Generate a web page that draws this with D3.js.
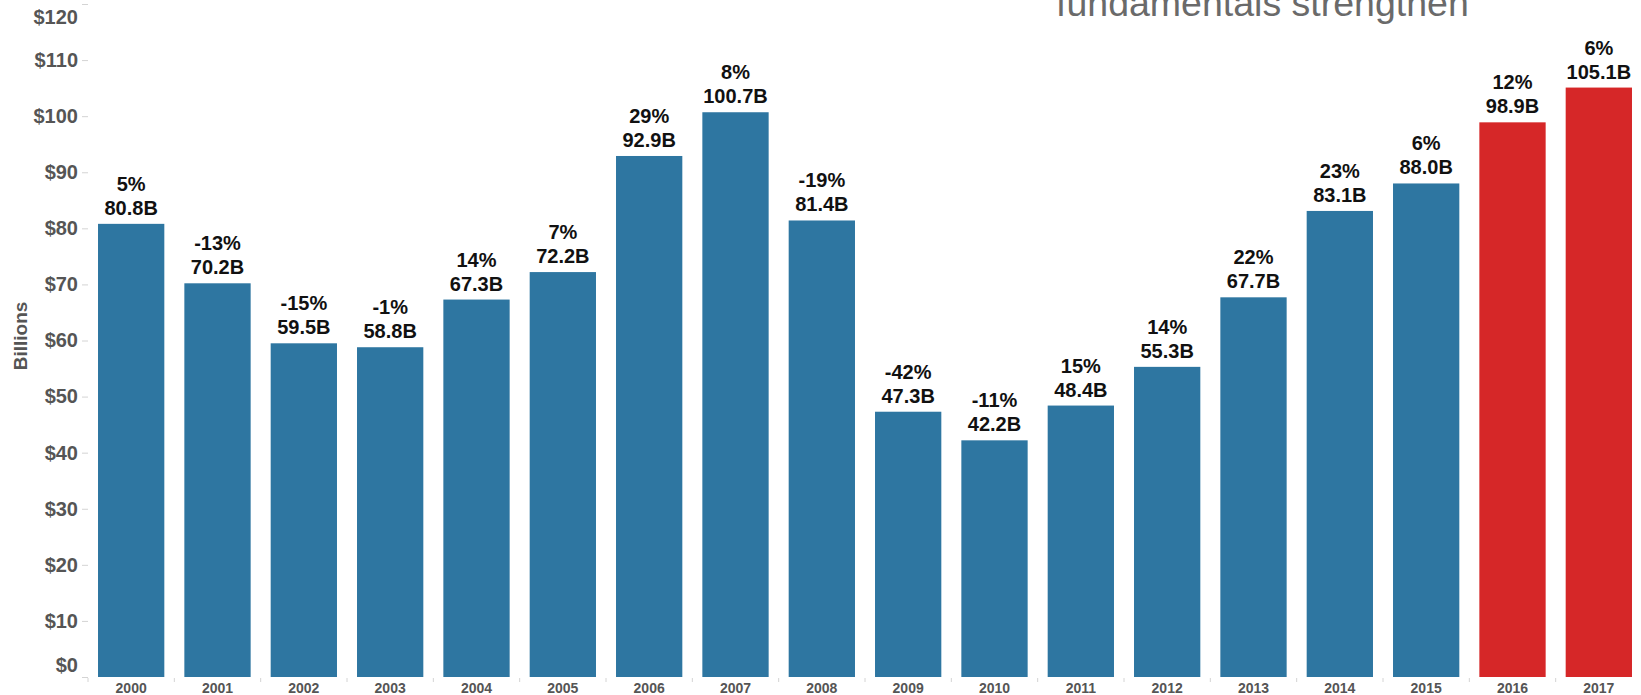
<!DOCTYPE html>
<html>
<head>
<meta charset="utf-8">
<script src="https://cdn.jsdelivr.net/npm/d3@7"></script>
<style>
  html, body { margin: 0; padding: 0; background: #fff; overflow: hidden; }
  svg { display: block; font-family: "Liberation Sans", Arial, sans-serif; }
</style>
</head>
<body>
<svg id="chart" width="1641" height="695"></svg>
<script>
// Annual totals (billions) and year-over-year change
const years = ["2000","2001","2002","2003","2004","2005","2006","2007","2008",
               "2009","2010","2011","2012","2013","2014","2015","2016","2017"];
const totals = [80.8, 70.2, 59.5, 58.8, 67.3, 72.2, 92.9, 100.7, 81.4,
                47.3, 42.2, 48.4, 55.3, 67.7, 83.1, 88.0, 98.9, 105.1];
const changes = [5, -13, -15, -1, 14, 7, 29, 8, -19,
                 -42, -11, 15, 14, 22, 23, 6, 12, 6];
const projectedYears = ["2016", "2017"];
const yTicks = [0, 10, 20, 30, 40, 50, 60, 70, 80, 90, 100, 110, 120];
const titleText = "fundamentals strengthen";

const data = years.map((y, i) => ({ year: y, total: totals[i], change: changes[i] }));

const svg = d3.select("#chart");
const plotLeft = 88, plotRight = 1642, plotTop = 4, plotBottom = 677;

const x = d3.scaleBand().domain(years).range([plotLeft, plotRight])
  .paddingInner(0.232).paddingOuter(0.116);
const y = d3.scaleLinear().domain([0, 120]).range([plotBottom, plotTop]);

// Partial headline at the top
svg.append("text")
  .attr("x", 1056).attr("y", 16)
  .attr("fill", "#6a6a6a")
  .attr("font-size", 37.5)
  .attr("font-weight", 300)
  .text(titleText);

// Y axis: labels and short light ticks, no domain line
const yAxis = svg.append("g")
  .attr("transform", `translate(${plotLeft},0)`)
  .call(d3.axisLeft(y).tickValues(yTicks).tickSize(6).tickPadding(4)
    .tickFormat(d => "$" + d));
yAxis.select(".domain").remove();
yAxis.selectAll(".tick line").attr("stroke", "#d4d4d4");
yAxis.selectAll(".tick text")
  .attr("fill", "#555").attr("font-size", 20).attr("font-weight", "bold")
  .attr("font-family", "'Liberation Sans', Arial, sans-serif");
// keep the end labels inside the plot's vertical extent
yAxis.selectAll(".tick").filter(d => d === 120).select("text").attr("dy", "0.95em");
yAxis.selectAll(".tick").filter(d => d === 0).select("text").attr("dy", "-0.3em");

svg.append("text")
  .attr("transform", `translate(27,336) rotate(-90)`)
  .attr("text-anchor", "middle")
  .attr("fill", "#555").attr("font-size", 19).attr("font-weight", "bold")
  .text("Billions");

// Bars
svg.append("g").selectAll("rect").data(data).join("rect")
  .attr("x", d => x(d.year))
  .attr("width", x.bandwidth())
  .attr("y", d => y(d.total))
  .attr("height", d => y(0) - y(d.total))
  .attr("fill", d => projectedYears.includes(d.year) ? "#d62728" : "#2e76a1");

// X axis: category separators and year labels
const step = x.step();
const seps = d3.range(0, years.length).map(i => plotLeft + i * step);
svg.append("g").selectAll("line").data(seps).join("line")
  .attr("x1", d => d).attr("x2", d => d)
  .attr("y1", plotBottom + 1).attr("y2", plotBottom + 5)
  .attr("stroke", "#d4d4d4");

svg.append("g").selectAll("text").data(data).join("text")
  .attr("x", d => x(d.year) + x.bandwidth() / 2)
  .attr("y", 693)
  .attr("text-anchor", "middle")
  .attr("fill", "#555").attr("font-size", 14).attr("font-weight", "bold")
  .text(d => d.year);

// Value labels: change on the first line, total on the second
const labels = svg.append("g").selectAll("g").data(data).join("g")
  .attr("transform", d => `translate(${x(d.year) + x.bandwidth() / 2},${y(d.total)})`);

labels.append("text")
  .attr("y", -9)
  .attr("text-anchor", "middle")
  .attr("fill", "#111").attr("font-size", 20).attr("font-weight", "bold")
  .text(d => d.total.toFixed(1) + "B");

labels.append("text")
  .attr("y", -33)
  .attr("text-anchor", "middle")
  .attr("fill", "#111").attr("font-size", 20).attr("font-weight", "bold")
  .text(d => d.change + "%");
</script>
</body>
</html>
